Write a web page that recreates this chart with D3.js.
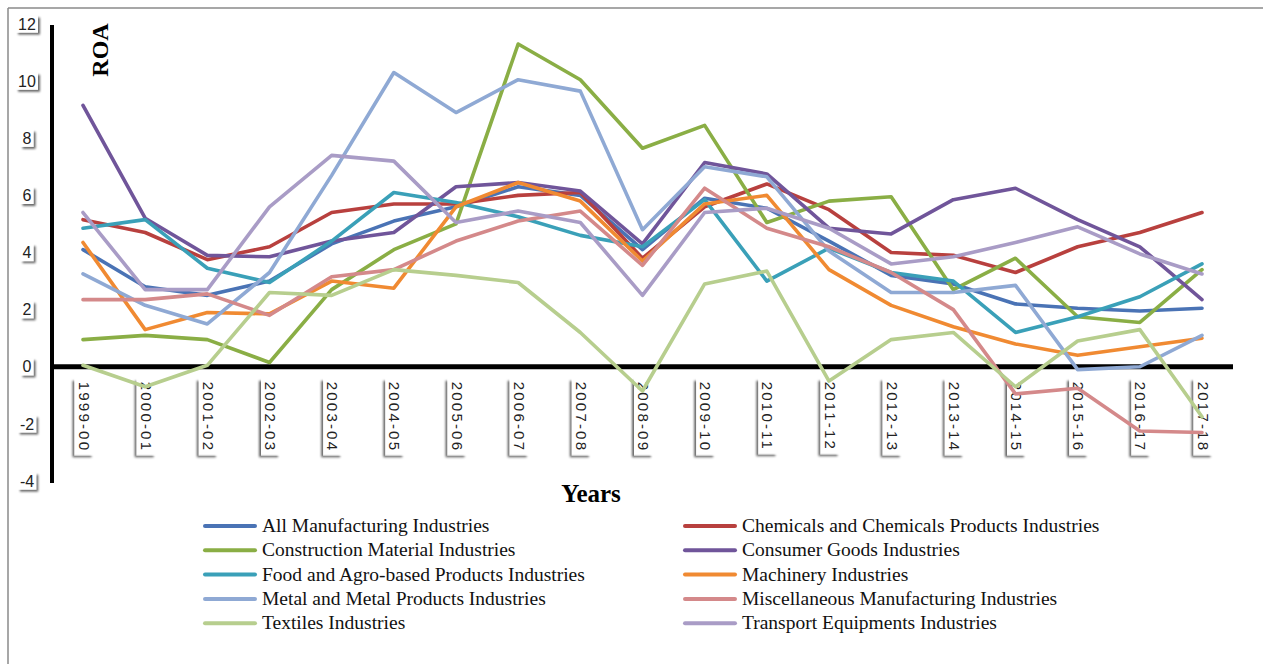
<!DOCTYPE html>
<html>
<head>
<meta charset="utf-8">
<script src="https://cdn.jsdelivr.net/npm/d3@7"></script>
<style>
  html, body { margin: 0; padding: 0; background: #fff; }
  svg { display: block; }
</style>
</head>
<body>
<svg id="chart" width="1263" height="664"></svg>
<script>
const years = ["1999-00","2000-01","2001-02","2002-03","2003-04","2004-05","2005-06","2006-07","2007-08","2008-09","2009-10","2010-11","2011-12","2012-13","2013-14","2014-15","2015-16","2016-17","2017-18"];
const yTicks = [-4, -2, 0, 2, 4, 6, 8, 10, 12];

const allManufacturing = [4.1, 2.8, 2.5, 3.0, 4.3, 5.1, 5.6, 6.3, 6.0, 4.1, 5.9, 5.55, 4.4, 3.2, 2.9, 2.2, 2.05, 1.95, 2.05];
const chemicals        = [5.15, 4.7, 3.75, 4.2, 5.4, 5.7, 5.7, 6.0, 6.1, 3.8, 5.6, 6.4, 5.5, 4.0, 3.9, 3.3, 4.2, 4.7, 5.4];
const construction     = [0.95, 1.1, 0.95, 0.15, 2.7, 4.1, 5.0, 11.3, 10.05, 7.65, 8.45, 5.05, 5.8, 5.95, 2.7, 3.8, 1.75, 1.55, 3.4];
const consumerGoods    = [9.15, 5.2, 3.9, 3.85, 4.4, 4.7, 6.3, 6.45, 6.15, 4.3, 7.15, 6.75, 4.85, 4.65, 5.85, 6.25, 5.15, 4.2, 2.35];
const foodAgro         = [4.85, 5.15, 3.45, 2.95, 4.4, 6.1, 5.75, 5.25, 4.6, 4.2, 5.85, 3.0, 4.15, 3.3, 3.0, 1.2, 1.75, 2.45, 3.6];
const machinery        = [4.35, 1.3, 1.9, 1.85, 3.0, 2.75, 5.6, 6.45, 5.8, 3.7, 5.7, 6.0, 3.4, 2.15, 1.4, 0.8, 0.4, 0.7, 1.0];
const metal            = [3.25, 2.15, 1.5, 3.3, 6.7, 10.3, 8.9, 10.05, 9.65, 4.8, 7.0, 6.65, 4.05, 2.6, 2.6, 2.85, -0.1, 0.0, 1.1];
const miscellaneous    = [2.35, 2.35, 2.55, 1.8, 3.15, 3.4, 4.4, 5.1, 5.45, 3.55, 6.25, 4.85, 4.2, 3.3, 2.0, -0.95, -0.75, -2.25, -2.3];
const textiles         = [0.05, -0.7, 0.05, 2.6, 2.5, 3.4, 3.2, 2.95, 1.2, -0.85, 2.9, 3.35, -0.5, 0.95, 1.2, -0.7, 0.9, 1.3, -1.75];
const transport        = [5.4, 2.7, 2.7, 5.6, 7.4, 7.2, 5.05, 5.45, 5.05, 2.5, 5.4, 5.55, 4.85, 3.6, 3.85, 4.35, 4.9, 3.95, 3.25];

const seriesNames = [
  "All Manufacturing Industries",
  "Chemicals and Chemicals Products Industries",
  "Construction Material Industries",
  "Consumer Goods Industries",
  "Food and Agro-based Products Industries",
  "Machinery Industries",
  "Metal and Metal Products Industries",
  "Miscellaneous Manufacturing Industries",
  "Textiles Industries",
  "Transport Equipments Industries"
];
const seriesValues = [allManufacturing, chemicals, construction, consumerGoods, foodAgro, machinery, metal, miscellaneous, textiles, transport];
const seriesColors = ["#4A73B5", "#B8403E", "#8AAE45", "#70559A", "#3AA0B8", "#F08A32", "#8FA9D4", "#D4898A", "#B7CE8E", "#A99CC6"];

const svg = d3.select("#chart");

// outer frame (left and top edges)
svg.append("line").attr("x1", 8).attr("y1", 8).attr("x2", 8).attr("y2", 664).attr("stroke", "#8a8a8a").attr("stroke-width", 1.5);
svg.append("line").attr("x1", 8).attr("y1", 8).attr("x2", 1263).attr("y2", 8).attr("stroke", "#8a8a8a").attr("stroke-width", 1.5);

const x = d3.scalePoint().domain(years).range([83, 1202]);
const y = d3.scaleLinear().domain([-4, 12]).range([481, 24]);

// shadow filter for tick label boxes
const defs = svg.append("defs");
const f = defs.append("filter").attr("id", "sh").attr("x", "-30%").attr("y", "-30%").attr("width", "170%").attr("height", "170%");
f.append("feGaussianBlur").attr("in", "SourceAlpha").attr("stdDeviation", 1.3);
f.append("feOffset").attr("dx", 1.5).attr("dy", 2).attr("result", "ob");
f.append("feComponentTransfer").append("feFuncA").attr("type", "linear").attr("slope", 0.6);
const m = f.append("feMerge");
m.append("feMergeNode");
m.append("feMergeNode").attr("in", "SourceGraphic");

// Y axis
const yAxis = svg.append("g").attr("transform", "translate(52,0)")
  .call(d3.axisLeft(y).tickValues(yTicks).tickSize(0).tickPadding(24).tickFormat(d => String(d)));
yAxis.select(".domain").remove();
yAxis.selectAll("text")
  .attr("font-family", "'Liberation Sans Narrow', 'Liberation Sans', Arial, sans-serif")
  .attr("font-size", 16).attr("fill", "#222").attr("text-anchor", "middle").attr("dx", -1);
yAxis.selectAll(".tick").each(function() {
  const t = d3.select(this).select("text");
  const bb = t.node().getBBox();
  d3.select(this).insert("rect", "text")
    .attr("x", bb.x - 2).attr("y", bb.y).attr("width", bb.width + 4).attr("height", bb.height)
    .attr("fill", "#fff").attr("filter", "url(#sh)");
});
svg.append("line").attr("x1", 52).attr("x2", 52).attr("y1", y(12) + 1).attr("y2", y(-4) + 2)
  .attr("stroke", "#000").attr("stroke-width", 4);

// X axis at zero
const xAxis = svg.append("g").attr("transform", `translate(0,${y(0)})`)
  .call(d3.axisBottom(x).tickSize(0).tickPadding(0));
xAxis.select(".domain").remove();
xAxis.selectAll("text")
  .attr("font-family", "'Liberation Sans Narrow', 'Liberation Sans', Arial, sans-serif")
  .attr("font-size", 15).attr("fill", "#222")
  .attr("letter-spacing", "2.2px")
  .attr("text-anchor", "start")
  .attr("dy", null)
  .attr("transform", "translate(-5,15) rotate(90)");
xAxis.selectAll(".tick").each(function() {
  const t = d3.select(this).select("text");
  const bb = t.node().getBBox();
  d3.select(this).insert("rect", "text")
    .attr("transform", "translate(-5,15) rotate(90)")
    .attr("x", bb.x - 3).attr("y", bb.y - 1).attr("width", bb.width + 6).attr("height", bb.height + 2)
    .attr("fill", "#fff").attr("filter", "url(#sh)");
});
svg.append("line").attr("x1", 50).attr("x2", 1233).attr("y1", y(0)).attr("y2", y(0))
  .attr("stroke", "#000").attr("stroke-width", 5);

// series lines
const line = d3.line().x((d, i) => x(years[i])).y(d => y(d));
const g = svg.append("g");
seriesValues.forEach((vals, k) => {
  g.append("path").datum(vals).attr("d", line)
    .attr("fill", "none").attr("stroke", seriesColors[k]).attr("stroke-width", 3.6)
    .attr("stroke-linejoin", "round").attr("stroke-linecap", "round");
});

// axis titles
svg.append("text").attr("transform", "translate(108,50) rotate(-90)")
  .attr("text-anchor", "middle").attr("font-family", "'Liberation Serif', 'Times New Roman', serif")
  .attr("font-weight", "bold").attr("font-size", 24).attr("fill", "#000").text("ROA");
svg.append("text").attr("x", 591).attr("y", 502)
  .attr("text-anchor", "middle").attr("font-family", "'Liberation Serif', 'Times New Roman', serif")
  .attr("font-weight", "bold").attr("font-size", 25).attr("fill", "#000").text("Years");

// legend
const legend = svg.append("g");
seriesNames.forEach((name, k) => {
  const col = k % 2, row = Math.floor(k / 2);
  const lx = col === 0 ? 205 : 685;
  const ly = 526 + row * 24.3;
  legend.append("line").attr("x1", lx).attr("x2", lx + 50).attr("y1", ly).attr("y2", ly)
    .attr("stroke", seriesColors[k]).attr("stroke-width", 4).attr("stroke-linecap", "round");
  legend.append("text").attr("x", lx + 57).attr("y", ly + 6)
    .attr("font-family", "'Liberation Serif', 'Times New Roman', serif")
    .attr("font-size", 19.5).attr("fill", "#111").text(name);
});
</script>
</body>
</html>
